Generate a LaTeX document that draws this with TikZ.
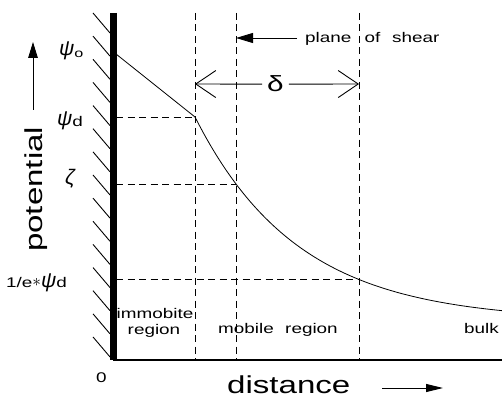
\documentclass[tikz,border=0pt]{standalone}
\usepackage{fontspec}
\usepackage{graphicx}
\setmainfont{Liberation Sans}
\usetikzlibrary{arrows.meta}
\newcommand{\widetxt}[1]{\scalebox{1.35}[1]{#1}}
\newcommand{\fs}[1]{\fontsize{#1}{#1}\selectfont}
\begin{document}
\begin{tikzpicture}[x=1pt,y=-1pt,
  lab/.style={inner sep=0pt,font=\fs{14}},
  big/.style={inner sep=0pt,font=\fs{24.5}},
  greek/.style={inner sep=0pt,font=\fs{21}\itshape},
  dashline/.style={dash pattern=on 7pt off 4.5pt,line width=0.9pt},
  hatch/.style={line width=0.9pt},
  curve/.style={line width=0.8pt},
  fillarrow/.style={line width=0.9pt,-{Triangle[length=#1,width=0.6*#1]}},
  openarrow/.style={line width=0.9pt,-{Straight Barb[length=20pt,width=27pt]}}]
\useasboundingbox (0,0) rectangle (502,398);
% wall
\coordinate (wt) at (113.5,13);
\coordinate (wb) at (113.5,360);
\coordinate (ae) at (502,360);
\draw[line width=1.3pt] (113,360) -- (ae);
\draw[line width=6.5pt] (wt) -- (wb);
\foreach \i in {0,...,14}{
  \draw[hatch] (93,13+23.14*\i) -- (110,33+23.14*\i);
}
% dashed verticals
\foreach \n/\x in {a/195,b/236,c/359}{
  \coordinate (\n t) at (\x,13);
  \coordinate (\n b) at (\x,360);
  \draw[dashline] (\n t) -- (\n b);
}
% key points
\coordinate (p0) at (116,54);
\coordinate (pd) at (195,117);
\coordinate (pz) at (236,184);
\coordinate (pe) at (359,279.5);
\coordinate (hd) at (116,117);
\coordinate (hz) at (116,184);
\coordinate (he) at (116,279.5);
\draw[dashline] (hd) -- (pd);
\draw[dashline] (hz) -- (pz);
\draw[dashline] (he) -- (pe);
% curve
\draw[curve] (p0) -- (pd);
\draw[curve] plot[domain=195:502,samples=80] (\x,{321-204*exp(-(\x-195)/103)});
% labels on the potential axis
\node[greek,anchor=base west] (psi0) at (59,56) {ψ\raisebox{-1.5pt}{\upshape\fs{12}\widetxt{o}}};
\node[greek,anchor=base west] (psid) at (57,126) {ψ\raisebox{-1pt}{\upshape\fs{14}\widetxt{d}}};
\node[greek,anchor=base west] (zeta) at (65,184) {ζ};
\node[inner sep=0pt,anchor=base west] (psie) at (6,287) {\fs{14}\widetxt{1/e}\raisebox{0.5pt}{\fs{17}$\ast$}\fs{21}\itshape ψ\upshape\fs{14}\widetxt{d}};
\node[lab,anchor=base west] (zero) at (96,382) {\fs{14}\widetxt{0}};
% axis titles
\node[big,rotate=90,anchor=base west] (pot) at (42,252) {\widetxt{potential}};
\coordinate (pa1) at (33,110);
\coordinate (pa2) at (33,42);
\draw[fillarrow=16pt] (pa1) -- (pa2);
\node[big,anchor=base west] (dist) at (227,393) {\widetxt{distance}};
\coordinate (da1) at (382,388);
\coordinate (da2) at (443,388);
\draw[-{Triangle[length=17pt,width=8pt]},line width=0.9pt] (da1) -- (da2);
% plane of shear
\node[lab,anchor=base west] (shear) at (305,43) {\widetxt{plane\hspace{0.7em}of\hspace{0.62em}shear}};
\coordinate (sa1) at (297,38);
\coordinate (sa2) at (236,38);
\draw[-{Triangle[length=17pt,width=10pt]},line width=0.9pt] (sa1) -- (sa2);
% delta
\node[inner sep=0pt,font=\fs{22},anchor=base] (delta) at (275.5,92) {\widetxt{δ}};
\coordinate (dl) at (195,84);
\coordinate (dr) at (359,84);
\draw[openarrow] ([xshift=-5pt]delta.west) -- (dl);
\draw[openarrow] ([xshift=5pt]delta.east) -- (dr);
% region labels
\node[lab,anchor=base] (imm1) at (155,318) {\widetxt{immobite}};
\node[lab,anchor=base] (imm2) at (154,334) {\widetxt{region}};
\node[lab,anchor=base west] (mob) at (218,333) {\widetxt{mobile\hspace{0.6em}region}};
\node[lab,anchor=base west] (bulk) at (464,333) {\widetxt{bulk}};
\end{tikzpicture}
\end{document}
